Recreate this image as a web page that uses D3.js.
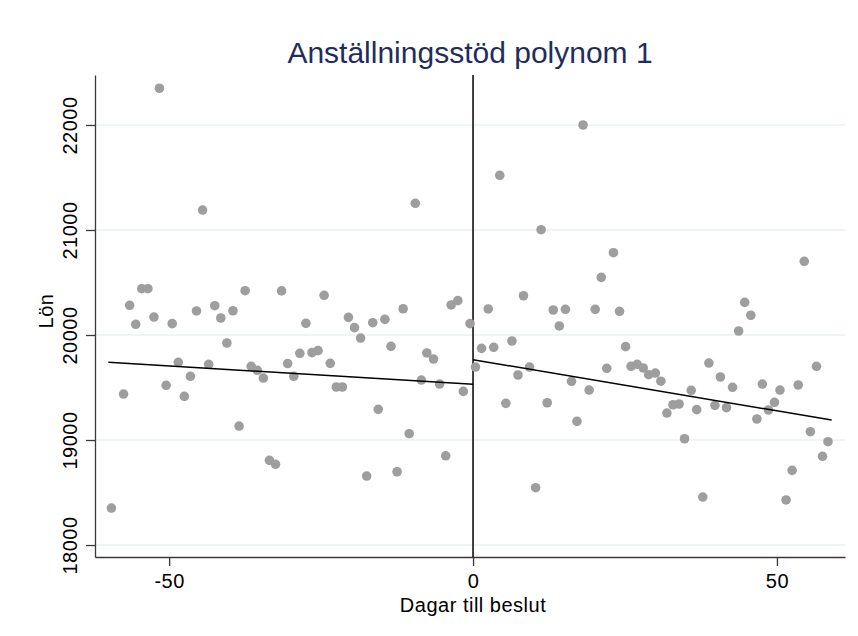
<!DOCTYPE html>
<html>
<head>
<meta charset="utf-8">
<script src="https://cdn.jsdelivr.net/npm/d3@7"></script>
<style>
  body { margin: 0; background: #fff; }
  text { font-family: "Liberation Sans", Arial, sans-serif; }
</style>
</head>
<body>
<div id="chart"></div>
<script>
// days before the decision (left of the cutoff) and salary
const xLeft = [-59.5, -57.5, -56.5, -55.5, -54.5, -53.5, -52.5, -51.6, -50.5, -49.5,
  -48.5, -47.5, -46.5, -45.5, -44.5, -43.5, -42.5, -41.5, -40.5, -39.5,
  -38.5, -37.5, -36.5, -35.5, -34.5, -33.5, -32.5, -31.5, -30.5, -29.5,
  -28.5, -27.5, -26.5, -25.5, -24.5, -23.5, -22.5, -21.5, -20.5, -19.5,
  -18.5, -17.5, -16.5, -15.6, -14.5, -13.5, -12.5, -11.5, -10.5, -9.5,
  -8.5, -7.6, -6.5, -5.5, -4.5, -3.6, -2.5, -1.6, -0.5];
const yLeft = [18352, 19438, 20283, 20102, 20441, 20441, 20171, 22350, 19521, 20108,
  19740, 19416, 19607, 20229, 21190, 19721, 20279, 20162, 19924, 20231,
  19133, 20422, 19702, 19664, 19590, 18807, 18769, 20420, 19728, 19607,
  19826, 20111, 19832, 19851, 20378, 19730, 19505, 19505, 20168, 20070,
  19971, 18657, 20117, 19292, 20149, 19892, 18698, 20250, 19060, 21254,
  19571, 19829, 19771, 19533, 18850, 20286, 20327, 19463, 20108];

// days after the decision (right of the cutoff)
const xRight = [0.4, 1.4, 2.5, 3.4, 4.4, 5.4, 6.4, 7.4, 8.3, 9.3,
  10.3, 11.2, 12.2, 13.2, 14.2, 15.2, 16.2, 17.1, 18.1, 19.1,
  20.1, 21.1, 22.0, 23.1, 24.1, 25.1, 26.0, 27.0, 28.0, 28.9,
  30.0, 30.9, 31.9, 32.9, 33.9, 34.8, 35.9, 36.8, 37.8, 38.8,
  39.8, 40.7, 41.7, 42.7, 43.7, 44.7, 45.7, 46.7, 47.6, 48.6,
  49.6, 50.5, 51.5, 52.5, 53.5, 54.5, 55.5, 56.5, 57.5, 58.4];
const yRight = [19695, 19873, 20248, 19883, 21521, 19349, 19943, 19619, 20374, 19695,
  18546, 21003, 19355, 20238, 20086, 20245, 19559, 19178, 22000, 19476,
  20245, 20549, 19683, 20784, 20226, 19889, 19702, 19721, 19686, 19622,
  19638, 19560, 19257, 19336, 19343, 19012, 19473, 19289, 18457, 19733,
  19330, 19600, 19308, 19502, 20038, 20311, 20188, 19200, 19533, 19286,
  19359, 19476, 18429, 18711, 19524, 20702, 19079, 19702, 18845, 18984];

// linear fit (polynom 1) on each side: x and fitted salary at the ends
const fitXLeft = [-60, 0];
const fitYLeft = [19740, 19530];
const fitXRight = [0, 59];
const fitYRight = [19765, 19190];

const xTicks = [-50, 0, 50];
const yTicks = [18000, 19000, 20000, 21000, 22000];

const titleText = "Anställningsstöd polynom 1";
const xTitle = "Dagar till beslut";
const yTitle = "Lön";

const W = 858, H = 636;
const plot = { left: 95, right: 845, top: 75, bottom: 557 };

const svg = d3.select("#chart").append("svg")
  .attr("width", W)
  .attr("height", H);

const x = d3.scaleLinear().domain([-62.2, 61.2]).range([plot.left, plot.right]);
const y = d3.scaleLinear().domain([17886, 22476]).range([plot.bottom, plot.top]);

// gridlines
svg.append("g")
  .selectAll("line")
  .data(yTicks)
  .join("line")
  .attr("x1", plot.left).attr("x2", plot.right)
  .attr("y1", d => y(d)).attr("y2", d => y(d))
  .attr("stroke", "#eaf2f3")
  .attr("stroke-width", 1.6);

// axes
const xAxis = svg.append("g")
  .attr("transform", `translate(0,${plot.bottom})`)
  .call(d3.axisBottom(x).tickValues(xTicks).tickFormat(d => String(d))
    .tickSize(9).tickPadding(5).tickSizeOuter(0));
const yAxis = svg.append("g")
  .attr("transform", `translate(${plot.left},0)`)
  .call(d3.axisLeft(y).tickValues(yTicks).tickFormat(d => String(d))
    .tickSize(9).tickSizeOuter(0));

[xAxis, yAxis].forEach(g => {
  g.select(".domain").attr("stroke", "#3a3a3a").attr("stroke-width", 1.3);
  g.selectAll(".tick line").attr("stroke", "#3a3a3a").attr("stroke-width", 1.3);
  g.selectAll(".tick text")
    .attr("fill", "#000")
    .style("font-size", "20px")
    .style("letter-spacing", "0.5px")
    .style("font-family", "Liberation Sans, Arial, sans-serif");
});

xAxis.selectAll(".tick text").attr("dy", "0.95em").attr("y", 12);
yAxis.selectAll(".tick text")
  .attr("x", 0).attr("dy", 0)
  .attr("text-anchor", "middle")
  .attr("transform", "translate(-18,0) rotate(-90)");

// cutoff line
svg.append("line")
  .attr("x1", x(0)).attr("x2", x(0))
  .attr("y1", plot.top).attr("y2", plot.bottom)
  .attr("stroke", "#000")
  .attr("stroke-width", 1.5);

// points
const leftPts = xLeft.map((d, i) => ({ x: d, y: yLeft[i] }));
const rightPts = xRight.map((d, i) => ({ x: d, y: yRight[i] }));

svg.append("g")
  .selectAll("circle")
  .data(leftPts.concat(rightPts))
  .join("circle")
  .attr("cx", d => x(d.x))
  .attr("cy", d => y(d.y))
  .attr("r", 4.8)
  .attr("fill", "#9e9e9e");

// fitted lines
const line = d3.line().x(d => x(d[0])).y(d => y(d[1]));
[[fitXLeft, fitYLeft], [fitXRight, fitYRight]].forEach(([fx, fy]) => {
  svg.append("path")
    .attr("d", line(fx.map((v, i) => [v, fy[i]])))
    .attr("fill", "none")
    .attr("stroke", "#000")
    .attr("stroke-width", 1.5);
});

// titles
svg.append("text")
  .attr("x", (plot.left + plot.right) / 2)
  .attr("y", 63)
  .attr("text-anchor", "middle")
  .attr("fill", "#1f2d5c")
  .style("font-size", "30px")
  .text(titleText);

svg.append("text")
  .attr("x", x(0))
  .attr("y", 612)
  .attr("text-anchor", "middle")
  .style("font-size", "20px")
  .style("letter-spacing", "0.5px")
  .text(xTitle);

svg.append("text")
  .attr("transform", "translate(53,311) rotate(-90)")
  .attr("text-anchor", "middle")
  .style("font-size", "20px")
  .style("letter-spacing", "0.5px")
  .text(yTitle);
</script>
</body>
</html>
